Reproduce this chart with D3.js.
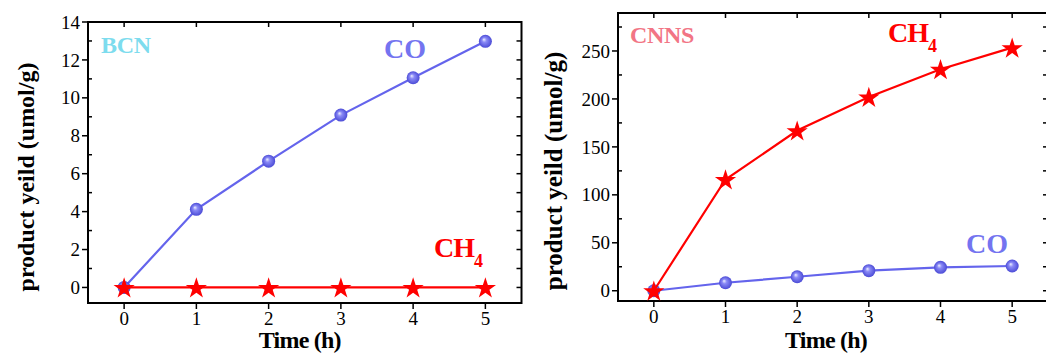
<!doctype html>
<html>
<head>
  <meta charset="utf-8">
  <title>product yeild</title>
  <style>
  body { margin: 0; background: #fff; }
  svg text { font-family: 'Liberation Serif', 'DejaVu Serif', serif; }
  </style>
</head>
<body>
  <div id="vis"></div>
  <script src="https://d3js.org/d3.v7.min.js"></script>
  <script>
  // data
  var hours = [0, 1, 2, 3, 4, 5];
  var bcnCO = [0, 4.12, 6.66, 9.09, 11.06, 12.98];
  var bcnCH4 = [0, 0, 0, 0, 0, 0];
  var cnnsCO = [0, 8.3, 14.6, 20.9, 24.4, 25.8];
  var cnnsCH4 = [0, 116, 167, 202, 231, 253.5];
  var bcnTicks = [0, 2, 4, 6, 8, 10, 12, 14];
  var cnnsTicks = [0, 50, 100, 150, 200, 250];

  var width = 1046, height = 355;
  var coColor = '#6464ec', ch4Color = '#ff0000';
  var serif = "'Liberation Serif', 'Times New Roman', serif";

  var svg = d3.select('#vis').append('svg')
    .attr('width', width)
    .attr('height', height)
    .attr('font-family', serif);

  var grad = svg.append('defs').append('radialGradient')
    .attr('id', 'ball').attr('fx', '38%').attr('fy', '35%');
  grad.append('stop').attr('offset', '0%').attr('stop-color', '#eef0ff');
  grad.append('stop').attr('offset', '35%').attr('stop-color', '#8a8af6');
  grad.append('stop').attr('offset', '100%').attr('stop-color', '#4b4bd6');

  function panel(opt){
    var x = d3.scaleLinear().domain([-0.5, 5.5]).range([opt.left, opt.right]);
    var y = d3.scaleLinear().domain(opt.ydom).range([opt.bottom, opt.top]);
    var g = svg.append('g');

    // frame
    g.append('rect')
      .attr('x', opt.left).attr('y', opt.top)
      .attr('width', opt.right - opt.left).attr('height', opt.bottom - opt.top)
      .attr('fill', 'none').attr('stroke', '#000').attr('stroke-width', 2);

    // x ticks, bottom outward, top inward
    g.selectAll('.xt').data(hours).enter().append('line')
      .attr('x1', function(d){ return x(d); }).attr('x2', function(d){ return x(d); })
      .attr('y1', opt.bottom).attr('y2', opt.bottom + 6)
      .attr('stroke', '#000').attr('stroke-width', 1.5);
    g.selectAll('.xtt').data(hours).enter().append('line')
      .attr('x1', function(d){ return x(d); }).attr('x2', function(d){ return x(d); })
      .attr('y1', opt.top).attr('y2', opt.top + 5)
      .attr('stroke', '#000').attr('stroke-width', 1.5);
    g.selectAll('.xl').data(hours).enter().append('text')
      .attr('font-family', serif)
      .attr('x', function(d){ return x(d); })
      .attr('y', opt.bottom + 22)
      .attr('text-anchor', 'middle')
      .attr('font-size', 19)
      .text(function(d){ return d; });

    // y ticks: major outward, minor inward
    var step = opt.yticks[1] - opt.yticks[0];
    var minor = opt.yticks.map(function(d){ return d + step / 2; })
      .filter(function(d){ return y(d) > opt.top; });
    g.selectAll('.yt').data(opt.yticks).enter().append('line')
      .attr('x1', opt.left - 6).attr('x2', opt.left)
      .attr('y1', function(d){ return y(d); }).attr('y2', function(d){ return y(d); })
      .attr('stroke', '#000').attr('stroke-width', 1.5);
    g.selectAll('.ym').data(minor).enter().append('line')
      .attr('x1', opt.left).attr('x2', opt.left + 4)
      .attr('y1', function(d){ return y(d); }).attr('y2', function(d){ return y(d); })
      .attr('stroke', '#000').attr('stroke-width', 1.5);
    g.selectAll('.yr').data(opt.yticks.concat(minor)).enter().append('line')
      .attr('x1', opt.right - 5).attr('x2', opt.right)
      .attr('y1', function(d){ return y(d); }).attr('y2', function(d){ return y(d); })
      .attr('stroke', '#000').attr('stroke-width', 1.5);
    g.selectAll('.yl').data(opt.yticks).enter().append('text')
      .attr('font-family', serif)
      .attr('x', opt.left - 8)
      .attr('y', function(d){ return y(d); })
      .attr('dy', '0.35em')
      .attr('text-anchor', 'end')
      .attr('font-size', 19)
      .text(function(d){ return d; });

    // axis titles
    g.append('text')
      .attr('font-family', serif)
      .attr('x', (opt.left + opt.right) / 2 - 5 + opt.xtOff)
      .attr('y', 348)
      .attr('text-anchor', 'middle')
      .attr('font-size', 24).attr('font-weight', 'bold')
      .attr('letter-spacing', -0.8)
      .text('Time (h)');
    g.append('text')
      .attr('font-family', serif)
      .attr('transform', 'translate(' + opt.ytX + ',' + opt.ytY + ') rotate(-90)')
      .attr('text-anchor', 'middle')
      .attr('font-size', opt.ytSize).attr('font-weight', 'bold')
      .text('product yeild (umol/g)');

    // series
    var line = d3.line()
      .x(function(d, i){ return x(hours[i]); })
      .y(function(d){ return y(d); });

    g.append('path').datum(opt.co)
      .attr('d', line).attr('fill', 'none')
      .attr('stroke', coColor).attr('stroke-width', 2.2);
    g.selectAll('.ball').data(opt.co).enter().append('circle')
      .attr('cx', function(d, i){ return x(hours[i]); })
      .attr('cy', function(d){ return y(d); })
      .attr('r', 6.5)
      .attr('fill', 'url(#ball)');

    g.append('path').datum(opt.ch4)
      .attr('d', line).attr('fill', 'none')
      .attr('stroke', ch4Color).attr('stroke-width', 2.2);
    g.selectAll('.star').data(opt.ch4).enter().append('path')
      .attr('transform', function(d, i){ return 'translate(' + x(hours[i]) + ',' + (y(d) + 1) + ')'; })
      .attr('d', d3.symbol().type(d3.symbolStar).size(140))
      .attr('fill', ch4Color);

    // labels
    g.append('text')
      .attr('font-family', serif)
      .attr('x', opt.name[1]).attr('y', opt.name[2])
      .attr('font-size', 24).attr('font-weight', 'bold')
      .attr('fill', opt.name[3])
      .attr('letter-spacing', -0.3)
      .text(opt.name[0]);
    g.append('text')
      .attr('font-family', serif)
      .attr('x', opt.coLab[0]).attr('y', opt.coLab[1])
      .attr('font-size', 28).attr('font-weight', 'bold')
      .attr('fill', '#7474f0')
      .text('CO');
    var ch = g.append('text')
      .attr('font-family', serif)
      .attr('x', opt.chLab[0]).attr('y', opt.chLab[1])
      .attr('font-size', 28).attr('font-weight', 'bold')
      .attr('fill', ch4Color)
      .attr('letter-spacing', -1);
    ch.append('tspan').text('CH');
    ch.append('tspan').attr('dy', 10).attr('font-size', 18).text('4');
  }

  panel({
    left: 88, right: 521.5, top: 22, bottom: 303,
    ydom: [-0.82, 14], yticks: bcnTicks,
    co: bcnCO, ch4: bcnCH4,
    name: ['BCN', 101, 53, '#7ddcee'],
    coLab: [384, 58], chLab: [434, 257],
    ytX: 34, ytY: 177, ytSize: 24, xtOff: 0
  });

  panel({
    left: 618, right: 1048, top: 13, bottom: 301,
    ydom: [-10.7, 289.6], yticks: cnnsTicks,
    co: cnnsCO, ch4: cnnsCH4,
    name: ['CNNS', 630, 43, '#f27585'],
    coLab: [966, 253], chLab: [888, 42],
    ytX: 562, ytY: 171, ytSize: 25, xtOff: -2
  });
  </script>
</body>
</html>
